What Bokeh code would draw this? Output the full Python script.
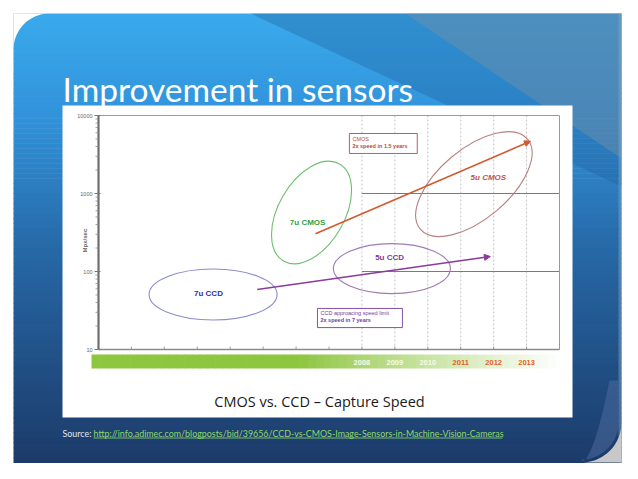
import numpy as np
from bokeh.plotting import figure
from bokeh.models import Range1d, LogScale, Arrow, NormalHead
from bokeh.core.properties import value
from bokeh.embed import file_html
from bokeh.resources import INLINE

# ---------------- data ----------------
title_text = "Improvement in sensors"
caption_text = "CMOS vs. CCD \u2013 Capture Speed"
source_label = "Source:"
source_url = "http://info.adimec.com/blogposts/bid/39656/CCD-vs-CMOS-Image-Sensors-in-Machine-Vision-Cameras"

x_start, x_end = 2000, 2014
y_min, y_max = 10, 10000
y_ticks = [10, 100, 1000, 10000]
y_tick_labels = ["10", "100", "1000", "10000"]
y_axis_label = "Mpx/sec"

years = [2008, 2009, 2010, 2011, 2012, 2013]
year_labels = ["2008", "2009", "2010", "2011", "2012", "2013"]
year_future = [False, False, False, True, True, True]

ref_line_speeds = [100, 1000]
ref_line_from = 2008

sensor_names = ["7u CCD", "7u CMOS", "5u CCD", "5u CMOS"]
sensor_year = [2003.48, 2006.47, 2008.91, 2011.40]
sensor_speed = [50.7, 570, 109, 1320]
label_year = [2003.34, 2006.35, 2008.84, 2011.84]
label_speed = [52.2, 424, 151, 1603]

trend_names = ["CMOS", "CCD"]
trend_year0 = [2006.59, 2004.82]
trend_speed0 = [304, 58.8]
trend_year1 = [2013.12, 2011.90]
trend_speed1 = [4677, 155.6]

note_line1 = ["CMOS", "CCD approacing speed limit"]
note_line2 = ["2x speed in 1.5 years", "2x speed in 7 years"]
note_year0 = [2007.62, 2006.65]
note_year1 = [2009.68, 2009.23]
note_speed_top = [5878, 33.6]
note_speed_bottom = [3259, 19.1]

# ---------------- layout / style ----------------
W, H = 622, 463

AX_L, AX_R, AX_T, AX_B = 98, 559, 115, 349
k = (AX_R - AX_L) / (x_end - x_start)
decade = (AX_B - AX_T) / np.log10(y_max / y_min)
y_hi = np.log10(y_max) + AX_T / decade
y_lo = np.log10(y_min) - (H - AX_B) / decade

LATO = value("Lato")
SANS = value("Liberation Sans")
OPEN = value("Open Sans")

p = figure(width=W, height=H, output_backend="svg", toolbar_location=None,
           x_range=Range1d(0, W), y_range=Range1d(H, 0),
           x_axis_location=None, y_axis_location=None, min_border=0, title=None)
p.outline_line_color = None
p.background_fill_color = "white"
p.border_fill_color = "white"
p.xgrid.visible = False
p.ygrid.visible = False
p.extra_x_ranges = {"yr": Range1d(x_start - AX_L / k, x_end + (W - AX_R) / k)}
p.extra_y_ranges = {"mpx": Range1d(10 ** y_lo, 10 ** y_hi)}
p.extra_y_scales = {"mpx": LogScale()}
KW = dict(x_range_name="yr", y_range_name="mpx")


def hexc(c):
    return "#%02x%02x%02x" % tuple(int(round(v)) for v in c)


# ---- slide background: vertical gradient in bands ----
SL, SR, ST, SB = 13, 621, 13, 462
stops_y = [13, 110, 250, 465]
stops_c = [(58, 170, 236), (50, 148, 220), (38, 104, 166), (28, 58, 104)]
N = 90
edges = np.linspace(ST, SB, N + 1)
cols = []
for i in range(N):
    ym = 0.5 * (edges[i] + edges[i + 1])
    c = [np.interp(ym, stops_y, [s[j] for s in stops_c]) for j in range(3)]
    cols.append(hexc(c))
p.quad(left=SL, right=SR, top=edges[:-1], bottom=edges[1:] + 0.6,
       fill_color=cols, line_color=None)

# darker diagonal sweeps at the top
p.patch([250, SR, SR], [13, 13, 186],
        fill_color="#1f5f9a", fill_alpha=0.35, line_color=None)
p.patch([405, SR, SR], [13, 13, 158],
        fill_color="#7290a8", fill_alpha=0.45, line_color=None)

# right rim
p.quad(left=SR - 3, right=SR, top=ST, bottom=SB,
       fill_color="#8aa6c0", fill_alpha=0.45, line_color=None)

# rounded top-left corner (white mask)
r1 = 36
cx, cy = SL + r1, ST + r1
t = np.linspace(-np.pi / 2, -np.pi, 30)
p.patch(np.r_[SL, cx + r1 * np.cos(t)], np.r_[ST, cy + r1 * np.sin(t)],
        fill_color="white", line_color=None)

# page curl bottom-right
r2 = 40
cx2, cy2 = SR - r2, SB - r2
t2 = np.linspace(0, np.pi / 2, 30)
p.patch(np.r_[SR, SR, cx2 + r2 * np.cos(t2)], np.r_[SB, cy2 - 40, cy2 + r2 * np.sin(t2)],
        fill_color="#c8c8c8", line_color=None)
curl_out_x = np.r_[SR - 3, SR - 3, cx2 + (r2 - 3) * np.cos(t2)]
curl_out_y = np.r_[380, cy2, cy2 + (r2 - 3) * np.sin(t2)]
tt = np.linspace(0, 1, 30)
curl_in_x = 582 + (609 - 582) * tt ** 0.6
curl_in_y = SB - 1 - (SB - 1 - 380) * tt
p.patch(np.r_[curl_out_x, curl_in_x], np.r_[curl_out_y, curl_in_y],
        fill_color="#48689a", fill_alpha=0.6, line_color=None)

# ---- title ----
p.text(x=[62], y=[88], text=[title_text], text_font=LATO,
       text_font_size="33.5px", text_color="white", text_baseline="alphabetic")

# ---- white chart card ----
p.quad(left=62, right=572, top=105, bottom=417, fill_color="white", line_color=None)

# ---- chart: grid lines ----
p.segment(x0=years, y0=y_min, x1=years, y1=y_max, line_color="#c4c4c4",
          line_width=1, line_dash="2 2", **KW)
p.segment(x0=ref_line_from, y0=ref_line_speeds, x1=x_end, y1=ref_line_speeds,
          line_color="#7a7a7a", line_width=1, **KW)
p.line(x=[x_start, x_end, x_end], y=[y_max, y_max, y_min], line_color="#9a9a9a",
       line_width=1, **KW)
p.segment(x0=x_start, y0=y_min, x1=x_end, y1=y_min, line_color="#8a8a8a",
          line_width=1.4, **KW)
p.segment(x0=x_start, y0=y_min, x1=x_start, y1=y_max, line_color="#6e6e6e",
          line_width=2.2, **KW)

minor = [m * 10 ** e for e in range(int(np.log10(y_min)), int(np.log10(y_max)))
         for m in range(2, 10)]
p.segment(x0=x_start - 3 / k, y0=minor, x1=x_start, y1=minor,
          line_color="#8a8a8a", line_width=0.8, **KW)
p.segment(x0=x_start - 4 / k, y0=y_ticks, x1=x_start + 2 / k, y1=y_ticks,
          line_color="#777777", line_width=1, **KW)
yr_ticks = list(range(x_start + 1, x_end))
p.segment(x0=yr_ticks, y0=y_min, x1=yr_ticks, y1=y_min * 10 ** (3 / decade),
          line_color="#8a8a8a", line_width=0.8, **KW)

p.text(x=x_start, y=y_ticks, text=y_tick_labels, x_offset=-6, text_align="right",
       text_baseline="middle", text_font=SANS, text_font_size="5.5px",
       text_color="#666666", **KW)
p.text(x=[x_start - 14 / k], y=[249], text=[y_axis_label], angle=np.pi / 2,
       text_align="center", text_baseline="middle", text_font=SANS,
       text_font_size="6px", text_font_style="bold", text_color="#666666", **KW)

# ---- year band ----
gx0, gx1 = 91, 555
GB = 60
gedges = np.linspace(gx0, gx1, GB + 1)
gcols = []
for i in range(GB):
    xm = 0.5 * (gedges[i] + gedges[i + 1])
    f = np.clip((xm - 300) / (562 - 300), 0, 1) ** 0.9
    c = [a + (255 - a) * f for a in (141, 198, 63)]
    gcols.append(hexc(c))
p.quad(left=gedges[:-1], right=gedges[1:] + 0.6, top=354, bottom=368,
       fill_color=gcols, line_color=None)
p.text(x=years, y=362, text=year_labels,
       text_color=["#e2622a" if f else "#f4fbe8" for f in year_future],
       text_align="center", text_baseline="middle", text_font=SANS,
       text_font_size="7.5px", text_font_style="bold", x_range_name="yr")

# ---- sensor ellipses and labels ----
ell_w = [128, 112, 117, 140]
ell_h = [51, 66, 50, 70]
ell_a = [0, np.pi / 3, 0, np.radians(40)]
ell_c = ["#8c8cd2", "#6cc06c", "#a07ab4", "#b88080"]
p.ellipse(x=sensor_year, y=sensor_speed, width=ell_w, height=ell_h, angle=ell_a,
          width_units="screen", height_units="screen", fill_color=None,
          line_color=ell_c, line_width=1.1, **KW)
lab_c = ["#30309a", "#38a038", "#7a3c9c", "#c0504d"]
lab_s = ["bold", "bold", "bold", "bold italic"]
p.text(x=label_year, y=label_speed, text=sensor_names, text_color=lab_c,
       text_font_style=lab_s, text_align="center", text_baseline="middle",
       text_font=SANS, text_font_size="8px", **KW)

# ---- note boxes ----
note_c = ["#b84a48", "#7a3c9c"]
p.quad(left=note_year0, right=note_year1, top=note_speed_top, bottom=note_speed_bottom,
       fill_color="white", line_color=note_c, line_width=0.9, **KW)
p.text(x=[x + 3 / k for x in note_year0], y=note_speed_top, text=note_line1,
       text_color=note_c, y_offset=2, text_baseline="top", text_font=SANS,
       text_font_size="5.5px", **KW)
p.text(x=[x + 3 / k for x in note_year0], y=note_speed_top, text=note_line2,
       text_color=note_c, y_offset=9, text_baseline="top", text_font=SANS,
       text_font_size="5.5px", text_font_style="bold", **KW)

# ---- trend arrows ----
trend_c = ["#d4582e", "#8a3c9a"]
for i in range(len(trend_names)):
    p.add_layout(Arrow(end=NormalHead(size=6, fill_color=trend_c[i], line_color=trend_c[i]),
                       x_start=trend_year0[i], y_start=trend_speed0[i],
                       x_end=trend_year1[i], y_end=trend_speed1[i],
                       line_color=trend_c[i], line_width=1.6, **KW))

# ---- caption and source ----
p.text(x=[319], y=[401], text=[caption_text], text_align="center",
       text_baseline="middle", text_font=OPEN, text_font_size="14.5px", text_color="#1a1a1a")
p.text(x=[62], y=[433], text=[source_label], text_baseline="middle",
       text_font=LATO, text_font_size="8.9px", text_color="#dfe7f2")
p.text(x=[93], y=[433], text=[source_url], text_baseline="middle",
       text_font=LATO, text_font_size="8.9px", text_color="#93d86c")
p.segment(x0=93, y0=437.5, x1=502, y1=437.5, line_color="#93d86c", line_width=0.8)

open("out.html", "w").write(file_html(p, INLINE))
